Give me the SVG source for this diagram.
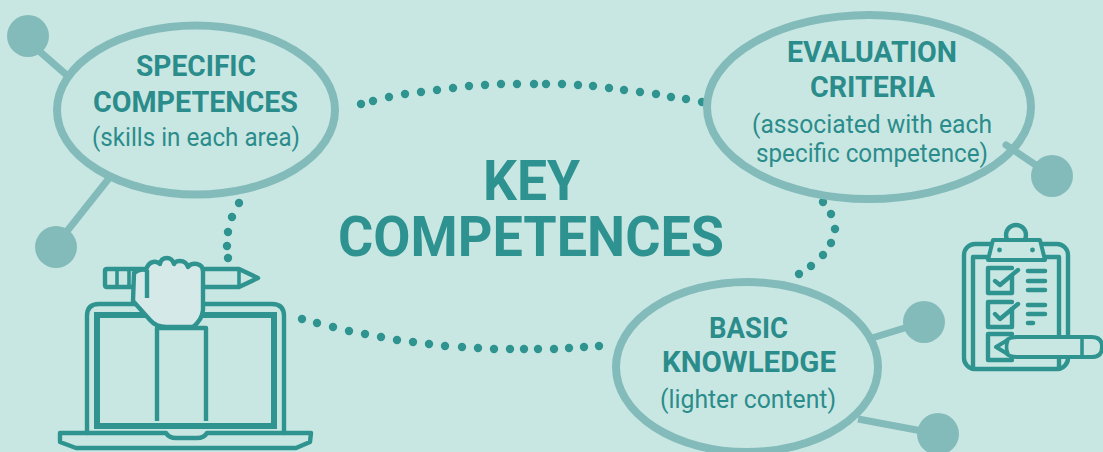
<svg xmlns="http://www.w3.org/2000/svg" width="1103" height="452" viewBox="0 0 1103 452">
<style>
.ring{fill:none;stroke:#83bbbb;stroke-width:8}
.link{fill:none;stroke:#83bbbb;stroke-width:7}
.ball{fill:#83bbbb}
.dots{fill:none;stroke:#2f9490;stroke-width:8.4;stroke-linecap:round}
.t{font-family:"Roboto","Noto Sans",sans-serif;fill:#2b8c8c;text-anchor:start}
.b{font-weight:700;font-size:29px}
.r{font-weight:400;font-size:25px}
.h{font-weight:700;font-size:56px;fill:#2e9290}
.i{fill:none;stroke:#2f9490;stroke-width:4.400;stroke-linejoin:round;stroke-linecap:round}
.i2{fill:none;stroke:#2f9490;stroke-width:3.600;stroke-linejoin:round}
</style>
<rect width="1103" height="452" fill="#c9e7e2"/>
<g id="connectors">
<path class="link" d="M38 50L70 78M60 240L110 177"/>
<path class="link" style="stroke-linecap:round" d="M1006 145L1052 176"/>
<path class="link" d="M872 338L924 322M858 419L938 434"/>
<path class="dots" d="M361 104h0M373 101h0M389 97h0M405 94h0M421 92h0M437 90h0M453 88h0M469 86h0M485 85h0M501 84h0M517 84h0M534 84h0M546 84h0M562 84h0M578 85h0M593 86h0M609 88h0M624 90h0M640 92h0M656 94h0M671 97h0M686 99h0M702 102h0"/>
<path class="dots" d="M823 202h0M831 214h0M835 229h0M831 243h0M823 255h0M811 266h0M799 274h0"/>
<path class="dots" d="M239 203h0M232 217h0M228 232h0M227 246h0M228 258h0"/>
<path class="dots" d="M302 319h0M317 323h0M333 327h0M349 331h0M365 334h0M381 337h0M397 340h0M413 342h0M429 344h0M445 346h0M462 347h0M478 348h0M494 349h0M510 349h0M524 349h0M538 349h0M554 349h0M569 348h0M584 347h0M599 346h0"/>
</g>
<g id="node-specific">
<circle class="ball" cx="28" cy="36" r="21"/>
<circle class="ball" cx="56" cy="247" r="21"/>
<ellipse class="ring" cx="196" cy="110" rx="139" ry="84.500"/>
<text class="t b" x="136" y="76" textLength="120" lengthAdjust="spacingAndGlyphs">SPECIFIC</text>
<text class="t b" x="93" y="112" textLength="205" lengthAdjust="spacingAndGlyphs">COMPETENCES</text>
<text class="t r" x="92" y="146" textLength="208" lengthAdjust="spacingAndGlyphs">(skills in each area)</text>
</g>
<g id="node-evaluation">
<circle class="ball" cx="1052" cy="176" r="21"/>
<ellipse class="ring" cx="869" cy="107" rx="162" ry="92"/>
<text class="t b" x="787" y="62" textLength="170" lengthAdjust="spacingAndGlyphs">EVALUATION</text>
<text class="t b" x="810" y="97" textLength="125" lengthAdjust="spacingAndGlyphs">CRITERIA</text>
<text class="t r" x="752" y="133" textLength="240" lengthAdjust="spacingAndGlyphs">(associated with each</text>
<text class="t r" x="756" y="162" textLength="232" lengthAdjust="spacingAndGlyphs">specific competence)</text>
</g>
<g id="node-basic">
<circle class="ball" cx="924" cy="322" r="21"/>
<circle class="ball" cx="938" cy="434" r="21"/>
<ellipse class="ring" cx="747" cy="367" rx="131" ry="85"/>
<text class="t b" x="709" y="338" textLength="79" lengthAdjust="spacingAndGlyphs">BASIC</text>
<text class="t b" x="662" y="372" textLength="174" lengthAdjust="spacingAndGlyphs">KNOWLEDGE</text>
<text class="t r" x="660" y="408" textLength="176" lengthAdjust="spacingAndGlyphs">(lighter content)</text>
</g>
<g id="node-title">
<text class="t h" x="483" y="200" textLength="97" lengthAdjust="spacingAndGlyphs">KEY</text>
<text class="t h" x="338" y="256" textLength="386" lengthAdjust="spacingAndGlyphs">COMPETENCES</text>
</g>
<g id="icon-laptop">
<path class="i" d="M87 433V316Q87 304 99 304H272Q284 304 284 316V433"/>
<rect x="97" y="315" width="177" height="111" fill="none" stroke="#2f9490" stroke-width="6"/>
<path class="i" d="M60 433H166Q169 438 176 438H197Q204 438 207 433H311L310 442L296 448H76L60 442Z"/>
<path class="i2" style="stroke-width:4.400" d="M157 421V328H206V421"/>
<path class="i" d="M239 269H107Q105 269 105 271V285Q105 287 107 287H239L258 278Z"/>
<path class="i2" d="M117 270V286M129 270V286M139 270V286M239 270V286"/>
<path d="M134 273L133 301L150 320Q156 327 166 327H193Q202 320 203 310V272Q203 265 197 264Q191 263 188 267Q186 261 180 261Q175 261 174 264Q172 258 167 258Q161 258 160 264Q157 261 153 262Q148 263 146 270Q140 268 134 273Z" fill="#d5e9e8" stroke="#2f9490" stroke-width="4.400" stroke-linejoin="round"/>
<path class="i" style="stroke-linecap:butt" d="M147 270V298"/>
</g>
<g id="icon-clipboard">
<rect class="i" x="964" y="244" width="104" height="125" rx="11"/>
<path class="i" d="M988 257H973V369M1045 257H1059V338M1059 357V369"/>
<circle class="i" cx="1016" cy="235" r="10"/>
<path d="M993 240H1040L1045 260H988Z" fill="#c9e7e2" stroke="#2f9490" stroke-width="4" stroke-linejoin="round"/>
<circle cx="999.500" cy="250" r="2.400" fill="#2f9490"/>
<circle cx="1032.500" cy="250" r="2.400" fill="#2f9490"/>
<path class="i" d="M1012 276V293H988V268H1012"/>
<path class="i" d="M995 281L1000 285L1018 270"/>
<path class="i" d="M1012 309V327H988V302H1012"/>
<path class="i" d="M995 314L1000 319L1018 304"/>
<path class="i" d="M1012 334H988V360H1012"/>
<path class="i" style="stroke-width:4.600" d="M1028 271H1045M1028 281H1045M1028 290H1045M1028 305H1045M1028 314H1045M1028 323H1033"/>
<path d="M1017 337H1092Q1102 337 1102 347Q1102 357 1092 357H1017Q1009 357 1006 353L996 347L1006 341Q1009 337 1017 337Z" fill="#c9e7e2" stroke="#2f9490" stroke-width="4" stroke-linejoin="round"/>
<path class="i2" d="M1082 338V356M1008 340Q1005 347 1008 354"/>
</g>
</svg>
